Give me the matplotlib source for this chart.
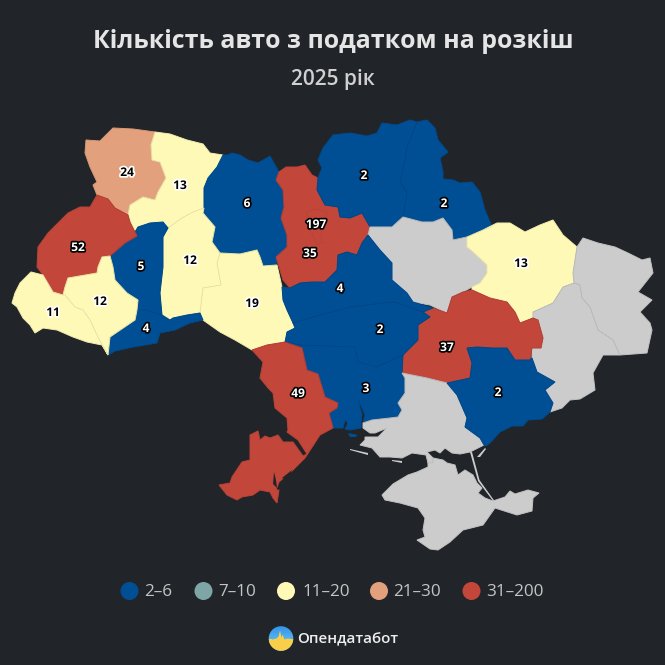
#!/usr/bin/python

import matplotlib
matplotlib.use("Agg")
import matplotlib.pyplot as plt
import matplotlib.patheffects as pe
from matplotlib.colors import LinearSegmentedColormap
from matplotlib.patches import Circle, Polygon
import numpy as np

BACKGROUND = "#212529"
NO_DATA = "#cccccc"

TITLE = "Кількість авто з податком на розкіш"
SUBTITLE = "2025 рік"
BRAND = "Опендатабот"

# Legend bins
BIN_LABELS = ["2–6", "7–10", "11–20", "21–30", "31–200"]
BIN_TOPS = [6, 10, 20, 30, 200]
BIN_COLORS = ["#004f95", "#7ea6a6", "#fff9b8", "#e2a17c", "#c3463a"]
BIN_TEXT = ["white", "white", "black", "black", "white"]
LEGEND_DOT_X = [129.5, 203.5, 286, 379, 471.5]
LEGEND_TEXT_X = [144, 218, 302, 393, 486.5]

# Cars per region, None where there is no data
REGIONS = ["volyn", "rivne", "zhytomyr", "khmelnytskyi", "vinnytsia", "ternopil", "chernivtsi",
           "lviv", "frankivsk", "zakarpattia", "kyiv_obl", "chernihiv", "sumy", "poltava", "kharkiv",
           "luhansk", "donetsk", "dnipro", "cherkasy", "kirovohrad", "mykolaiv", "kherson", "crimea",
           "zaporizhzhia", "odesa", "kyiv_city"]
CARS = [24, 13, 6, 12, 19, 5, 4,
        52, 12, 11, 35, 2, 2, None, 13,
        None, None, 37, 4, 2, 3, None, None,
        2, 49, 197]
LABEL_X = [127, 180, 247, 190, 252, 141, 146, 78, 100, 53, 310, 364, 444, 0, 521,
           0, 0, 447, 340, 380, 366, 0, 0, 498, 298, 316]
LABEL_Y = [171, 184, 202, 259, 302, 265, 327, 246, 300, 311, 252, 174, 202, 0, 262,
           0, 0, 346, 287, 328, 387, 0, 0, 391, 392, 223]

# Region outlines, in map units
OUTLINES = {
    "volyn": [(86, 140), (100, 141), (113, 128), (133, 129), (155, 132), (151, 145), (152, 160), (160, 162),
              (166, 178), (158, 192), (155, 200), (143, 197), (130, 205), (128, 215), (115, 208), (108, 199),
              (97, 195), (93, 185), (97, 182), (90, 167), (85, 153)],
    "rivne": [(155, 132), (170, 134), (187, 140), (203, 144), (210, 153), (223, 155), (217, 167), (208, 178),
              (204, 188), (204, 208), (193, 212), (182, 218), (168, 228), (163, 222), (150, 223), (138, 227),
              (135, 232), (130, 222), (128, 215), (130, 205), (143, 197), (155, 200), (158, 192), (166, 178),
              (160, 162), (152, 160), (151, 145)],
    "zhytomyr": [(223, 155), (228, 155), (232, 153), (240, 155), (248, 160), (258, 163), (270, 156), (279, 172),
                 (276, 180), (283, 190), (284, 207), (281, 218), (287, 235), (287, 247), (276, 257), (277, 265),
                 (263, 266), (260, 257), (257, 250), (240, 254), (220, 253), (212, 242), (215, 227), (203, 213),
                 (204, 208), (204, 188), (208, 178), (217, 167)],
    "khmelnytskyi": [(168, 228), (182, 218), (193, 212), (204, 208), (203, 213), (215, 227), (212, 242), (220, 253),
                     (217, 263), (221, 285), (203, 288), (200, 313), (187, 315), (173, 318), (170, 320), (162, 315),
                     (160, 293), (163, 267), (163, 237)],
    "vinnytsia": [(220, 253), (240, 254), (257, 250), (260, 257), (263, 266), (277, 265), (282, 287), (283, 300),
                  (287, 310), (293, 323), (295, 328), (287, 332), (285, 342), (267, 345), (252, 350), (235, 340),
                  (220, 332), (203, 320), (200, 313), (203, 288), (221, 285), (217, 263)],
    "ternopil": [(138, 227), (150, 223), (163, 222), (168, 228), (163, 237), (163, 267), (160, 293), (162, 315),
                 (147, 310), (137, 310), (138, 300), (127, 293), (115, 280), (113, 267), (110, 256), (125, 243),
                 (137, 236), (135, 232)],
    "chernivtsi": [(137, 310), (147, 310), (162, 315), (170, 320), (173, 318), (187, 315), (200, 313), (203, 320),
                   (190, 323), (175, 330), (160, 333), (157, 343), (133, 347), (115, 351), (108, 355), (110, 337),
                   (135, 320)],
    "lviv": [(97, 195), (108, 199), (115, 208), (128, 215), (130, 222), (135, 232), (137, 236), (125, 243),
             (110, 256), (102, 257), (98, 267), (97, 273), (68, 278), (65, 287), (63, 295), (53, 292), (43, 275),
             (37, 267), (38, 247), (48, 233), (68, 213), (80, 207), (90, 207)],
    "frankivsk": [(110, 256), (113, 267), (115, 280), (127, 293), (138, 300), (137, 310), (135, 320), (110, 337),
                  (108, 355), (98, 337), (90, 320), (83, 310), (75, 307), (65, 295), (63, 295), (65, 287), (68, 278),
                  (97, 273), (98, 267), (102, 257)],
    "zakarpattia": [(31, 272), (43, 275), (53, 292), (63, 295), (65, 295), (75, 307), (83, 310), (90, 320), (98, 337),
                    (108, 355), (102, 345), (87, 342), (73, 337), (57, 330), (43, 328), (35, 333), (30, 325), (23, 318),
                    (17, 307), (12, 303), (15, 293), (20, 283)],
    "kyiv_obl": [(286, 167), (297, 167), (305, 165), (312, 175), (318, 178), (317, 190), (325, 205), (338, 207),
                 (340, 217), (350, 218), (362, 213), (370, 227), (368, 235), (362, 243), (357, 255), (347, 252),
                 (338, 255), (337, 270), (325, 282), (312, 282), (300, 283), (290, 288), (283, 280), (276, 257),
                 (287, 247), (287, 235), (281, 218), (284, 207), (283, 190), (276, 180), (279, 172)],
    "chernihiv": [(318, 160), (323, 148), (333, 135), (350, 133), (367, 136), (377, 133), (382, 123), (397, 125),
                  (410, 120), (417, 122), (414, 130), (407, 147), (405, 160), (400, 182), (407, 193), (403, 217),
                  (392, 227), (380, 227), (370, 227), (362, 213), (350, 218), (340, 217), (338, 207), (325, 205),
                  (317, 190), (318, 178), (322, 168)],
    "sumy": [(417, 122), (427, 120), (435, 128), (438, 140), (448, 152), (440, 158), (443, 172), (443, 179), (453, 180),
             (460, 183), (472, 182), (480, 192), (485, 210), (492, 227), (483, 230), (467, 237), (453, 240), (452, 230),
             (443, 218), (433, 222), (422, 222), (403, 217), (407, 193), (400, 182), (405, 160), (407, 147), (414, 130)],
    "poltava": [(370, 227), (380, 227), (392, 227), (403, 217), (422, 222), (433, 222), (443, 218), (452, 230),
                (453, 240), (467, 237), (467, 247), (473, 252), (487, 265), (487, 273), (480, 283), (472, 287),
                (463, 292), (452, 297), (447, 313), (430, 305), (413, 302), (407, 293), (392, 280), (392, 263),
                (380, 250), (368, 235)],
    "kharkiv": [(467, 237), (483, 230), (497, 223), (510, 223), (525, 232), (540, 225), (553, 220), (563, 235),
                (577, 247), (573, 273), (574, 283), (563, 287), (553, 303), (533, 312), (533, 318), (520, 323),
                (515, 312), (507, 302), (490, 298), (472, 290), (472, 287), (480, 283), (487, 273), (487, 265),
                (473, 252), (467, 247)],
    "luhansk": [(577, 247), (583, 238), (598, 243), (615, 247), (628, 253), (642, 260), (650, 258), (653, 273),
                (638, 292), (652, 300), (640, 312), (650, 323), (652, 330), (647, 353), (620, 355), (613, 340),
                (598, 330), (590, 307), (582, 298), (580, 285), (574, 283), (573, 273)],
    "donetsk": [(574, 283), (580, 285), (582, 298), (590, 307), (598, 330), (613, 340), (620, 355), (603, 355),
                (593, 373), (595, 390), (580, 399), (570, 400), (562, 408), (550, 412), (553, 403), (545, 390),
                (555, 382), (537, 372), (532, 358), (532, 348), (541, 348), (543, 338), (538, 320), (533, 318),
                (533, 312), (553, 303), (563, 287)],
    "dnipro": [(447, 313), (452, 297), (463, 292), (472, 290), (490, 298), (507, 302), (515, 312), (520, 323),
               (533, 318), (538, 320), (543, 338), (541, 348), (532, 348), (530, 360), (515, 360), (507, 348),
               (492, 348), (477, 347), (467, 348), (472, 363), (470, 378), (447, 383), (427, 378), (402, 373),
               (403, 355), (418, 340), (418, 325), (430, 317), (423, 312), (433, 308)],
    "cherkasy": [(368, 235), (380, 250), (392, 263), (392, 280), (407, 293), (413, 302), (433, 308), (423, 312),
                 (395, 302), (383, 303), (350, 307), (313, 317), (293, 323), (287, 310), (283, 300), (282, 287),
                 (290, 288), (300, 283), (312, 282), (325, 282), (337, 270), (338, 255), (347, 252), (357, 255),
                 (362, 243)],
    "kirovohrad": [(293, 323), (295, 328), (287, 332), (285, 342), (302, 345), (355, 347), (358, 362), (377, 367),
                   (403, 355), (418, 340), (418, 325), (430, 317), (423, 312), (395, 302), (383, 303), (350, 307),
                   (313, 317)],
    "mykolaiv": [(285, 342), (302, 345), (355, 347), (358, 362), (377, 367), (403, 355), (402, 373), (405, 378),
                 (405, 393), (398, 403), (402, 410), (398, 417), (390, 418), (372, 420), (363, 423), (365, 415),
                 (362, 408), (358, 399), (360, 408), (362, 414), (361, 422), (361, 428), (350, 430), (345, 429),
                 (348, 423), (345, 420), (343, 428), (333, 428), (329, 413), (337, 408), (338, 403), (325, 397),
                 (318, 374), (307, 370), (302, 348)],
    "kherson": [(363, 423), (363, 428), (370, 433), (375, 433), (387, 428), (378, 437), (365, 437), (365, 440),
                (360, 445), (372, 448), (380, 457), (390, 457), (402, 458), (412, 453), (426, 455), (428, 463),
                (433, 463), (433, 458), (427, 452), (435, 450), (440, 453), (445, 448), (452, 453), (460, 454),
                (470, 452), (484, 445), (480, 438), (465, 427), (467, 418), (457, 395), (447, 383), (427, 378),
                (402, 373), (405, 378), (405, 393), (398, 403), (402, 410), (398, 417), (390, 418), (372, 420)],
    "crimea": [(382, 495), (393, 484), (408, 475), (417, 472), (428, 467), (428, 462), (433, 462), (433, 458),
               (443, 460), (447, 463), (455, 465), (458, 475), (465, 470), (473, 475), (477, 483), (482, 488),
               (478, 493), (485, 498), (493, 501), (505, 497), (510, 491), (515, 494), (528, 490), (539, 493),
               (533, 498), (532, 511), (517, 515), (495, 508), (483, 525), (463, 530), (450, 542), (438, 550),
               (430, 549), (417, 540), (425, 537), (423, 530), (425, 518), (418, 508), (400, 503), (385, 500)],
    "zaporizhzhia": [(447, 383), (470, 378), (472, 363), (467, 348), (477, 347), (492, 348), (507, 348), (515, 360),
                     (530, 360), (532, 358), (537, 372), (555, 382), (545, 390), (553, 403), (550, 412), (542, 419),
                     (528, 420), (523, 426), (512, 426), (500, 432), (490, 443), (486, 446), (484, 445), (480, 438),
                     (465, 427), (467, 418), (457, 395)],
    "odesa": [(252, 350), (267, 345), (285, 342), (302, 348), (307, 370), (318, 374), (325, 397), (338, 403),
              (337, 408), (329, 413), (333, 428), (320, 435), (305, 458), (293, 470), (279, 482), (276, 490),
              (279, 490), (277, 503), (273, 498), (270, 492), (260, 490), (253, 495), (242, 497), (237, 500),
              (227, 495), (219, 485), (230, 483), (232, 477), (238, 468), (242, 462), (250, 460), (250, 435),
              (258, 431), (260, 440), (265, 436), (270, 438), (278, 435), (283, 442), (293, 442), (303, 456),
              (307, 454), (298, 440), (287, 432), (288, 430), (287, 418), (275, 408), (273, 393), (268, 388),
              (260, 378), (263, 362)],
    "kyiv_city": [(307, 212), (315, 209), (327, 212), (323, 223), (320, 235), (323, 242), (317, 245), (313, 235),
                  (307, 225)],
}

# Spits and islets in the colour of the region next to them
KINBURN = [(348, 433), (358, 435), (355, 437), (350, 437)]
ARABAT = [(470, 452), (472, 452), (479.5, 480), (494.5, 501), (493, 501), (478, 481)]
TENDRA = [(350, 449), (368, 453), (368, 455), (350, 450)]
DZHARYLHACH = [(392, 460), (402, 461), (402, 463), (392, 461)]
BIRIUCHYI = [(477, 457), (485, 448), (486, 449), (480, 457)]
# Lagoons cut out of the land
LAGOONS = [[(274, 472), (276, 480), (277, 488), (273, 484)],
           [(282, 478), (292, 470), (290, 474), (284, 479)]]
# Pulse line on the logo
PULSE_X = [268, 272, 276, 278, 279.5, 281, 282, 284, 287, 294]
PULSE_Y = [639, 639, 638, 636, 630, 637, 634, 639, 638, 639]


def bin_index(value):
    for i, top in enumerate(BIN_TOPS):
        if value <= top:
            return i
    return len(BIN_TOPS) - 1


plt.rcParams["font.family"] = ["Open Sans", "DejaVu Sans"]

fig = plt.figure(figsize=(6.65, 6.65), dpi=100, facecolor=BACKGROUND)
ax = fig.add_axes([0, 0, 1, 1])

for name, value in zip(REGIONS, CARS):
    color = NO_DATA if value is None else BIN_COLORS[bin_index(value)]
    ax.add_patch(Polygon(OUTLINES[name], closed=True, fc=color, ec=color, lw=0.7, zorder=2))
# faint borders between regions go on top of all the fills
for name in REGIONS:
    ax.add_patch(Polygon(OUTLINES[name], closed=True, fill=False, ec=(0, 0, 0, 0.05), lw=0.6, zorder=3))

ax.add_patch(Polygon(KINBURN, closed=True, fc=BIN_COLORS[0], ec="none", zorder=2))
for islet in [ARABAT, TENDRA, DZHARYLHACH, BIRIUCHYI]:
    ax.add_patch(Polygon(islet, closed=True, fc=NO_DATA, ec="none", zorder=2))
for lagoon in LAGOONS:
    ax.add_patch(Polygon(lagoon, closed=True, fc=BACKGROUND, ec="none", zorder=4))

for value, x, y in zip(CARS, LABEL_X, LABEL_Y):
    if value is None:
        continue
    fg = BIN_TEXT[bin_index(value)]
    halo = "white" if fg == "black" else "black"
    ax.text(x, y, str(value), ha="center", va="center_baseline", fontsize=8.6, fontweight="bold", color=fg,
            zorder=6, path_effects=[pe.withStroke(linewidth=2.4, foreground=halo)])

ax.text(333, 41, TITLE, ha="center", va="center", fontsize=17.95, fontweight="bold", color="#e5e5e5")
ax.text(333, 80, SUBTITLE, ha="center", va="center", fontsize=15, fontweight="semibold", color="#d0d0d0")

for label, color, dot_x, text_x in zip(BIN_LABELS, BIN_COLORS, LEGEND_DOT_X, LEGEND_TEXT_X):
    ax.add_patch(Circle((dot_x, 591), 9, fc=color, ec="none"))
    ax.text(text_x, 591.5, label, ha="left", va="center", fontsize=12.3, color="#c4c4c4")

# logo: sky-to-sun disc with the pulse line between the two halves
clip = Circle((281, 638.5), 12.3, transform=ax.transData, fc="none", ec="none")
ax.add_patch(clip)
sky = np.linspace(0, 1, 32).reshape(-1, 1)
sky_cmap = LinearSegmentedColormap.from_list("sky", ["#3593ea", "#73d2f8"])
sky_img = ax.imshow(sky, extent=(268, 294, 651, 626), cmap=sky_cmap, aspect="auto", zorder=5)
sky_img.set_clip_path(clip)
sun = ax.fill_between(PULSE_X, PULSE_Y, 652, color="#f9cf4a", lw=0, zorder=6)
sun.set_clip_path(clip)

ax.text(297, 639, BRAND, ha="left", va="center", fontsize=10.9, fontweight="semibold", color="#eeeeee")

ax.set_xlim(0, 665)
ax.set_ylim(665, 0)
ax.axis("off")

plt.savefig("out.png", dpi=100, facecolor=BACKGROUND)
